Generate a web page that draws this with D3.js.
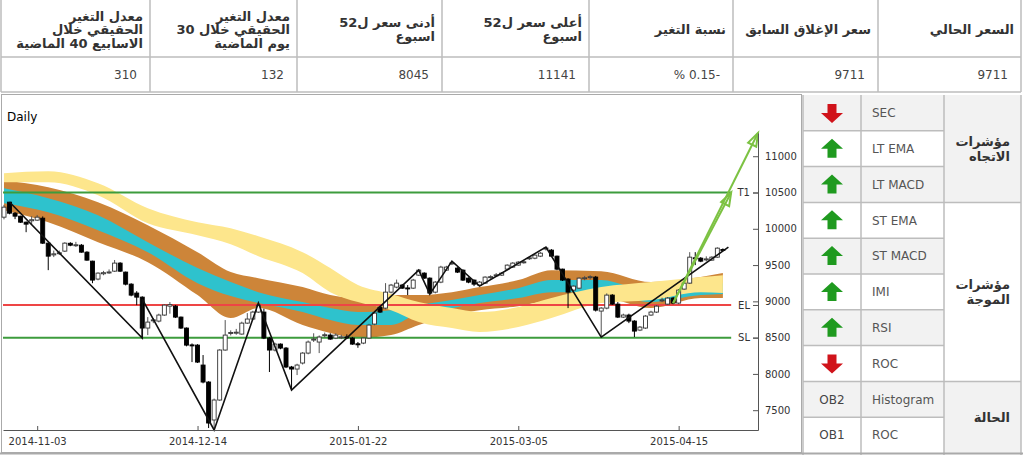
<!DOCTYPE html>
<html>
<head>
<meta charset="utf-8">
<script src="https://cdn.jsdelivr.net/npm/d3@7"></script>
<style>
  body { margin: 0; background: #fff; }
  text { font-family: "DejaVu Sans", sans-serif; }
</style>
</head>
<body>
<svg id="chart" width="1023" height="455"></svg>
<script>
// ---- summary table (right to left) ----
const headerLines = [
  ["السعر الحالي"],
  ["سعر الإغلاق السابق"],
  ["نسبة التغير"],
  ["أعلى سعر ل52", "اسبوع"],
  ["أدنى سعر ل52", "اسبوع"],
  ["معدل التغير", "الحقيقي خلال 30", "يوم الماضية"],
  ["معدل التغير", "الحقيقي خلال", "الاسابيع 40 الماضية"]
];
const headerValues = ["9711", "9711", "% 0.15-", "11141", "8045", "132", "310"];

// ---- indicator panel ----
const indicatorNames = ["SEC", "LT EMA", "LT MACD", "ST EMA", "ST MACD", "IMI", "RSI", "ROC", "Histogram", "ROC"];
const indicatorSignals = ["down", "up", "up", "up", "up", "up", "up", "down", "OB2", "OB1"];
const groupLabels = [["مؤشرات", "الاتجاه"], ["مؤشرات", "الموجة"], ["الحالة"]];
const groupSizes = [3, 5, 2];

// ---- price chart ----
const tickIndex = [6, 35, 64, 93, 122];
const tickDates = ["2014-11-03", "2014-12-14", "2015-01-22", "2015-03-05", "2015-04-15"];
const priceTicks = [7500, 8000, 8500, 9000, 9500, 10000, 10500, 11000];
const levelNames = ["T1", "EL", "SL"];
const levelValues = [10500, 8950, 8500];

// open, high, low, close per bar
const ohlc = [
  [10160,10330,10130,10298],[10367,10370,10200,10215],[10215,10230,10133,10174],[10174,10180,10080,10091],
  [10091,10100,9953,10064],[10110,10174,10064,10125],[10119,10190,10110,10160],[10146,10170,9790,9802],
  [9802,9810,9430,9623],[9640,9700,9610,9655],[9660,9700,9640,9670],[9692,9815,9680,9802],
  [9800,9815,9760,9774],[9774,9820,9750,9780],[9774,9790,9670,9678],[9678,9690,9560,9568],
  [9554,9560,9250,9293],[9307,9400,9290,9389],[9380,9420,9360,9395],[9395,9440,9380,9405],
  [9416,9570,9405,9527],[9527,9540,9405,9416],[9403,9410,9220,9237],[9237,9250,9070,9086],
  [9114,9140,8948,9058],[9058,9070,8494,8632],[8632,8783,8535,8714],[8735,8770,8700,8745],
  [8728,8830,8710,8811],[8811,8960,8800,8948],[8934,8990,8830,8955],[8934,8950,8770,8783],
  [8783,8790,8620,8632],[8632,8640,8380,8397],[8400,8420,8163,8390],[8397,8410,8150,8163],
  [8122,8260,7870,7888],[7888,7900,7254,7323],[7365,7660,7227,7640],[7640,8340,7630,8329],
  [8329,8742,8320,8535],[8560,8600,8530,8570],[8565,8620,8540,8575],[8549,8720,8540,8700],
  [8700,8838,8690,8756],[8756,8870,8740,8852],[8852,8976,8840,8948],[8852,8900,8480,8494],
  [8494,8510,8026,8329],[8329,8430,8310,8411],[8411,8420,8340,8356],[8356,8370,8080,8095],
  [8095,8110,7778,8067],[8067,8140,7984,8122],[8150,8300,8130,8287],[8287,8460,8270,8439],
  [8470,8560,8440,8480],[8439,8530,8287,8508],[8530,8570,8500,8540],[8535,8560,8470,8480],
  [8494,8560,8480,8535],[8505,8540,8480,8510],[8510,8545,8480,8505],[8494,8510,8400,8411],
  [8415,8440,8360,8405],[8425,8500,8410,8494],[8494,8690,8480,8673],[8687,8850,8670,8838],
  [8921,8940,8840,8852],[8907,9251,8890,9127],[9127,9240,9110,9224],[9196,9300,9180,9251],
  [9224,9240,9170,9182],[9185,9224,9086,9180],[9182,9310,9170,9293],[9361,9445,9350,9430],
  [9389,9400,9310,9320],[9320,9330,9100,9114],[9127,9280,9110,9265],[9265,9490,9250,9472],
  [9430,9490,9420,9472],[9520,9554,9500,9530],[9458,9470,9390,9403],[9430,9440,9280,9293],
  [9320,9330,9250,9265],[9293,9300,9210,9237],[9224,9280,9210,9265],[9251,9345,9240,9334],
  [9330,9360,9310,9340],[9355,9390,9340,9365],[9361,9400,9350,9389],[9444,9510,9430,9499],
  [9472,9540,9460,9527],[9499,9555,9490,9540],[9535,9570,9520,9545],[9590,9620,9570,9600],
  [9595,9650,9580,9637],[9623,9680,9610,9664],[9725,9747,9700,9735],[9706,9720,9610,9623],
  [9623,9630,9430,9444],[9444,9450,9280,9293],[9307,9320,8907,9127],[9155,9220,9140,9210],
  [9182,9330,9170,9320],[9315,9350,9290,9325],[9330,9360,9300,9340],[9334,9350,8860,8879],
  [8866,8920,8508,8907],[8907,9110,8890,9086],[9086,9100,8950,8962],[8962,8990,8770,8783],
  [8783,8830,8770,8811],[8811,8830,8700,8728],[8728,8740,8508,8590],[8604,8660,8590,8645],
  [8632,8810,8620,8797],[8811,8870,8800,8852],[8852,8950,8840,8934],[9010,9050,8990,9020],
  [8962,9060,8950,9045],[9045,9060,8960,8976],[8976,9170,8960,9155],[9169,9265,9160,9251],
  [9251,9678,9240,9609],[9600,9678,9499,9590],[9595,9610,9540,9554],[9580,9620,9550,9585],
  [9568,9620,9560,9609],[9609,9745,9600,9733],[9715,9730,9700,9711]
];

// moving-average ribbons, sampled at these bars
const bandIndex = [0, 8, 17, 26, 35, 41, 46, 54, 59, 64, 70, 75, 81, 86, 93, 99, 108, 117, 126, 130];
const brownTop = [10670,10573,10367,10050,9678,9403,9320,9196,9086,9045,9086,9086,9127,9196,9293,9430,9416,9265,9334,9389];
const brownBottom = [10256,10091,9816,9540,9086,8769,8907,8673,8563,8494,8535,8673,8811,8879,8934,9017,9058,8907,9045,9045];
const cyanTop = [10559,10422,10188,9816,9458,9265,9127,8990,8907,8852,8879,8948,9017,9086,9182,9293,9293,9127,9224,9251];
const cyanBottom = [10353,10229,9981,9678,9251,9072,8976,8852,8742,8673,8673,8838,8907,8976,9045,9127,9127,8990,9086,9100];
const yellowTop = [10766,10793,10628,10284,10091,10009,9898,9678,9458,9224,9100,8990,8907,8852,8921,9045,9196,9265,9334,9361];
const yellowBottom = [10642,10642,10463,10077,9912,9788,9623,9389,9127,8990,8879,8714,8632,8577,8645,8769,8976,9017,9127,9114];

// zigzag swings
const zigIndex = [1, 25, 25, 38, 46, 52, 75, 77, 81, 86, 98, 108, 131];
const zigValue = [10370, 8494, 9030, 7227, 8976, 7778, 9430, 9100, 9554, 9210, 9747, 8508, 9747];

// projection arrows
const targetStart = [121, 8976];
const targetEnds = [[131.5, 10500], [136.35, 11320]];

const svg = d3.select("#chart");
const gridColor = "#bdbdbd";

// ===== top table =====
const colEdges = [1021, 878, 733, 589, 442, 297, 150, 1];
const lineH = 13.5;
const summary = svg.append("g");
summary.selectAll("line.v").data(colEdges).enter().append("line")
  .attr("x1", d => d).attr("x2", d => d).attr("y1", 0).attr("y2", 92)
  .attr("stroke", gridColor).attr("stroke-width", 1.5);
[57, 92].forEach(yy => summary.append("line").attr("x1", 1).attr("x2", 1021).attr("y1", yy).attr("y2", yy)
  .attr("stroke", gridColor).attr("stroke-width", 1.5));

headerLines.forEach((lines, i) => {
  const xr = colEdges[i] - 7;
  const y0 = 29.5 - (lines.length - 1) * lineH / 2;
  lines.forEach((t, j) => {
    summary.append("text").attr("x", xr).attr("y", y0 + j * lineH).attr("dy", "0.35em")
      .attr("text-anchor", "end").attr("font-size", 13).attr("font-weight", "bold")
      .attr("fill", "#333").text(t);
  });
  summary.append("text").attr("x", colEdges[i] - 13).attr("y", 75).attr("dy", "0.35em")
    .attr("text-anchor", "end").attr("font-size", 12).attr("fill", "#444")
    .text(headerValues[i]);
});

// ===== indicator panel =====
const panelTop = 95, rowH = 35.8;
const cArrow = 803, cName = 861, cGroup = 944, cEnd = 1021;
const panel = svg.append("g");

panel.selectAll("rect.row").data(indicatorNames).enter().append("rect")
  .attr("x", cArrow).attr("y", (d, i) => panelTop + i * rowH)
  .attr("width", cGroup - cArrow).attr("height", rowH)
  .attr("fill", (d, i) => i % 2 === 0 ? "#f2f2f2" : "#fff");

let start = 0;
groupSizes.forEach((n, g) => {
  const y0 = panelTop + start * rowH, h = n * rowH;
  panel.append("rect").attr("x", cGroup).attr("y", y0).attr("width", cEnd - cGroup).attr("height", h)
    .attr("fill", g % 2 === 0 ? "#f2f2f2" : "#fff");
  const lbl = groupLabels[g];
  const cy = y0 + h / 2 - (lbl.length - 1) * 7.5;
  lbl.forEach((t, j) => panel.append("text").attr("x", 1010).attr("y", cy + j * 15).attr("dy", "0.35em")
    .attr("text-anchor", "end").attr("font-size", 13).attr("font-weight", "bold").attr("fill", "#333").text(t));
  if (start > 0) panel.append("line").attr("x1", cGroup).attr("x2", cEnd).attr("y1", y0).attr("y2", y0)
    .attr("stroke", gridColor).attr("stroke-width", 1.5);
  start += n;
});

d3.range(1, indicatorNames.length).forEach(i => panel.append("line")
  .attr("x1", cArrow).attr("x2", cGroup).attr("y1", panelTop + i * rowH).attr("y2", panelTop + i * rowH)
  .attr("stroke", gridColor).attr("stroke-width", 1.5));
[cArrow, cName, cGroup, cEnd].forEach(xx => panel.append("line")
  .attr("x1", xx).attr("x2", xx).attr("y1", panelTop).attr("y2", 455)
  .attr("stroke", gridColor).attr("stroke-width", 1.5));

const upArrow = "M0,-10 L11,0 L4.5,0 L4.5,9 L-4.5,9 L-4.5,0 L-11,0 Z";
const downArrow = "M0,10 L11,0 L4.5,0 L4.5,-9 L-4.5,-9 L-4.5,0 L-11,0 Z";
indicatorSignals.forEach((s, i) => {
  const cy = panelTop + (i + 0.5) * rowH, cx = 832;
  if (s === "up" || s === "down") {
    panel.append("path").attr("d", s === "up" ? upArrow : downArrow)
      .attr("transform", `translate(${cx},${cy})`)
      .attr("fill", s === "up" ? "#1f9a1f" : "#d0131a");
  } else {
    panel.append("text").attr("x", cx).attr("y", cy).attr("dy", "0.35em").attr("text-anchor", "middle")
      .attr("font-size", 12).attr("fill", "#444").text(s);
  }
  panel.append("text").attr("x", 872).attr("y", cy).attr("dy", "0.35em")
    .attr("font-size", 12).attr("fill", "#555").text(indicatorNames[i]);
});

// ===== price chart =====
svg.append("rect").attr("x", 1.5).attr("y", 94.5).attr("width", 800).attr("height", 358)
  .attr("fill", "none").attr("stroke", "#aaa");
svg.append("line").attr("x1", 0).attr("x2", 1023).attr("y1", 453.5).attr("y2", 453.5)
  .attr("stroke", "#aaa").attr("stroke-width", 2);

const x = d3.scaleLinear().domain([-0.18, 136.35]).range([3, 758]);
const y = d3.scaleLinear().domain([7227, 11320]).range([430, 133]);
const plot = svg.append("g");

const band = (lo, hi) => d3.area()
  .x((d, i) => x(bandIndex[i])).y0((d, i) => y(lo[i])).y1((d, i) => y(hi[i]))
  .curve(d3.curveMonotoneX)(bandIndex);
plot.append("path").attr("d", band(brownBottom, brownTop)).attr("fill", "#cd8539");
plot.append("path").attr("d", band(cyanBottom, cyanTop)).attr("fill", "#2ec2cd");
plot.append("path").attr("d", band(yellowBottom, yellowTop)).attr("fill", "#fde68c");

const levelColor = ["#3d9c3d", "#ee4545", "#3d9c3d"];
plot.selectAll("line.level").data(levelValues).enter().append("line")
  .attr("x1", 3).attr("x2", x(131.5)).attr("y1", d => y(d)).attr("y2", d => y(d))
  .attr("stroke", (d, i) => levelColor[i]).attr("stroke-width", 2);

// candles
const bw = 4;
const cg = plot.selectAll("g.candle").data(ohlc).enter().append("g");
cg.append("line").attr("x1", (d, i) => x(i)).attr("x2", (d, i) => x(i))
  .attr("y1", d => y(d[1])).attr("y2", d => y(d[2]))
  .attr("stroke", d => d[3] >= d[0] ? "#555" : "#000").attr("stroke-width", 1);
cg.append("rect").attr("x", (d, i) => x(i) - bw / 2)
  .attr("y", d => y(Math.max(d[0], d[3])))
  .attr("width", bw).attr("height", d => Math.max(1, Math.abs(y(d[0]) - y(d[3]))))
  .attr("fill", d => d[3] >= d[0] ? "#fff" : "#000")
  .attr("stroke", d => d[3] >= d[0] ? "#333" : "#000").attr("stroke-width", 0.9);

// zigzag
plot.append("path")
  .attr("d", d3.line().x((d, i) => x(zigIndex[i])).y((d, i) => y(zigValue[i]))(zigIndex))
  .attr("fill", "none").attr("stroke", "#111").attr("stroke-width", 1.6);

// targets
targetEnds.forEach(e => {
  const x0 = x(targetStart[0]), y0 = y(targetStart[1]), x1 = x(e[0]), y1 = y(e[1]);
  plot.append("line").attr("x1", x0).attr("y1", y0).attr("x2", x1).attr("y2", y1)
    .attr("stroke", "#7cc242").attr("stroke-width", 2);
  const a = Math.atan2(y1 - y0, x1 - x0) * 180 / Math.PI;
  plot.append("path").attr("d", "M0,0 L-13,-4.5 L-13,4.5 Z")
    .attr("transform", `translate(${x1},${y1}) rotate(${a})`)
    .attr("fill", "none").attr("stroke", "#7cc242").attr("stroke-width", 2);
});

// axes
const xAxis = svg.append("g").attr("transform", "translate(0,430)")
  .call(d3.axisBottom(x).tickValues(tickIndex).tickFormat((d, i) => tickDates[i])
    .tickSizeInner(-4).tickSizeOuter(0).tickPadding(8));
const yAxis = svg.append("g").attr("transform", "translate(758,0)")
  .call(d3.axisRight(y).tickValues(priceTicks).tickFormat(d3.format("d"))
    .tickSizeInner(-5).tickSizeOuter(0).tickPadding(7));
const lvAxis = svg.append("g").attr("transform", "translate(758,0)")
  .call(d3.axisLeft(y).tickValues(levelValues).tickFormat((d, i) => levelNames[i])
    .tickSize(5).tickPadding(3));
lvAxis.select(".domain").remove();
[xAxis, yAxis, lvAxis].forEach(g => {
  g.selectAll("text").attr("font-family", "DejaVu Sans").attr("font-size", 10).attr("fill", "#333");
  g.selectAll("line, path").attr("stroke", "#555");
});

svg.append("text").attr("x", 7).attr("y", 121).attr("font-family", "Liberation Serif")
  .attr("font-size", 12).attr("fill", "#000").text("Daily");
</script>
</body>
</html>
